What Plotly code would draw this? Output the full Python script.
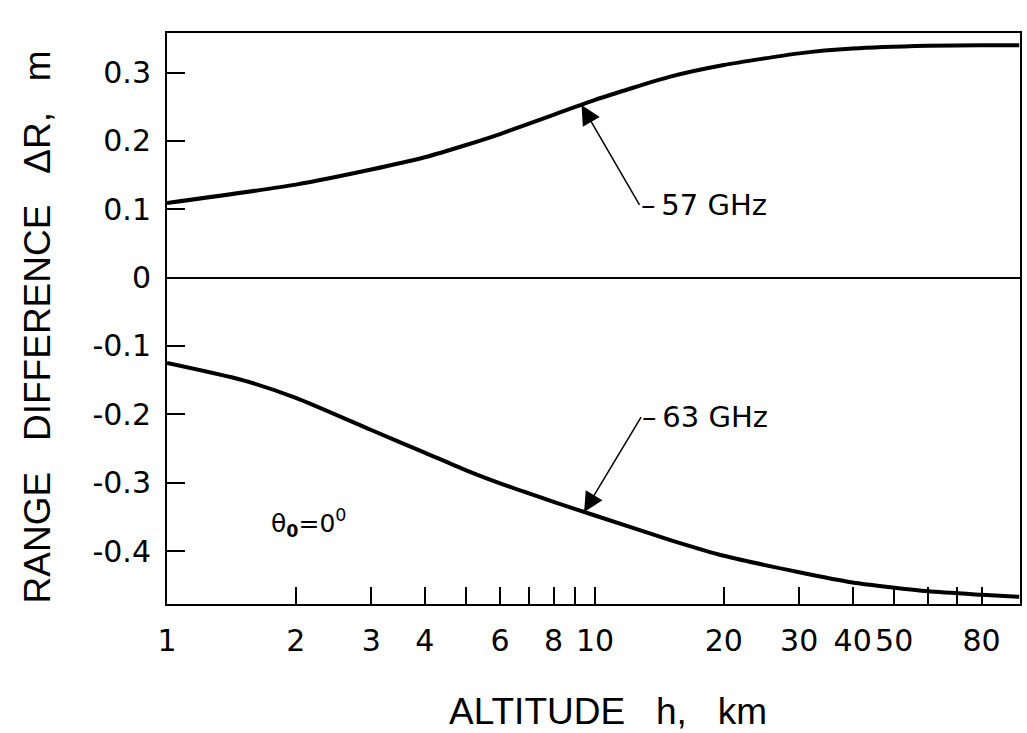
import math
import plotly.graph_objects as go

# Altitude (km) and range difference (m)
h_57 = [1, 2, 3, 4, 5, 6, 8, 10, 15, 20, 30, 40, 60, 80, 98]
dr_57 = [0.109, 0.136, 0.158, 0.176, 0.194, 0.210, 0.238, 0.260, 0.294, 0.311, 0.328, 0.335, 0.339, 0.340, 0.340]

h_63 = [1, 1.5, 2, 3, 4, 5, 6, 8, 10, 15, 20, 30, 40, 60, 80, 98]
dr_63 = [-0.125, -0.150, -0.176, -0.223, -0.256, -0.282, -0.301, -0.328, -0.348, -0.384, -0.407, -0.431, -0.446, -0.459, -0.464, -0.467]

x_tickvals = [1, 2, 3, 4, 5, 6, 7, 8, 9, 10, 20, 30, 40, 50, 60, 70, 80]
x_ticktext = ["1", "2", "3", "4", "", "6", "", "8", "", "10", "20", "30", "40", "50", "", "", "80"]
y_tickvals = [0.3, 0.2, 0.1, 0, -0.1, -0.2, -0.3, -0.4]
y_ticktext = ["0.3", "0.2", "0.1", "0", "-0.1", "-0.2", "-0.3", "-0.4"]

# annotation anchor points on the curves
arrow_57 = (9.3, 0.2525)
arrow_63 = (9.43, -0.343)

fig = go.Figure()
line_style = dict(color="black", width=4, shape="spline", smoothing=0.6)
fig.add_trace(go.Scatter(x=h_57, y=dr_57, mode="lines", line=line_style, showlegend=False))
fig.add_trace(go.Scatter(x=h_63, y=dr_63, mode="lines", line=line_style, showlegend=False))

title_font = dict(family="DejaVu Sans ExtraLight, Liberation Sans, sans-serif", size=37, color="black")

fig.update_layout(
    width=1027, height=733,
    margin=dict(l=167, r=5, t=33, b=129),
    paper_bgcolor="white", plot_bgcolor="white",
    xaxis=dict(
        type="log", range=[0, 1.993],
        tickvals=x_tickvals, ticktext=x_ticktext, tickangle=0,
        ticks="inside", ticklen=17, tickwidth=2, tickcolor="black",
        showline=True, linecolor="black", linewidth=2, mirror=True,
        showgrid=False, zeroline=False,
        tickfont=dict(family="DejaVu Sans", size=30, color="black"),
        ticklabelstandoff=9,
    ),
    yaxis=dict(
        range=[-0.4775, 0.3578],
        tickvals=y_tickvals, ticktext=y_ticktext,
        ticks="inside", ticklen=18, tickwidth=2, tickcolor="black",
        showline=True, linecolor="black", linewidth=2, mirror=True,
        showgrid=False, zeroline=True, zerolinecolor="black", zerolinewidth=2,
        tickfont=dict(family="DejaVu Sans", size=30, color="black"),
        ticklabelstandoff=8,
    ),
)

ann_font = dict(family="DejaVu Sans", size=29, color="black")
for (hx, vy), label, ax, ay in [(arrow_57, "57 GHz", 58, 100), (arrow_63, "63 GHz", 57, -95)]:
    fig.add_annotation(x=math.log10(hx), y=vy, xref="x", yref="y",
                       text="\u2013\u2009" + label, xanchor="left", yanchor="middle",
                       showarrow=True, arrowhead=2, arrowsize=2.6, arrowwidth=1.5, arrowcolor="black",
                       ax=ax, ay=ay, font=ann_font, standoff=0, borderpad=0)

fig.add_annotation(x=0.12, y=0.142, xref="paper", yref="paper",
                   text="\u03b8<sub><b>0</b></sub>=0<sup>0</sup>", showarrow=False,
                   xanchor="left", yanchor="middle",
                   font=dict(family="DejaVu Sans", size=25, color="black"))

fig.add_annotation(x=0.517, y=-0.189, xref="paper", yref="paper",
                   text="ALTITUDE\u00a0\u00a0\u00a0h,\u00a0\u00a0\u00a0km", showarrow=False,
                   xanchor="center", yanchor="middle", font=title_font)
fig.add_annotation(x=-0.152, y=0.485, xref="paper", yref="paper",
                   text="RANGE\u00a0\u00a0\u00a0DIFFERENCE\u00a0\u00a0\u00a0\u0394R,\u00a0\u00a0\u00a0m", showarrow=False,
                   textangle=-90, xanchor="center", yanchor="middle", font=title_font)

fig.write_html("out.html")
